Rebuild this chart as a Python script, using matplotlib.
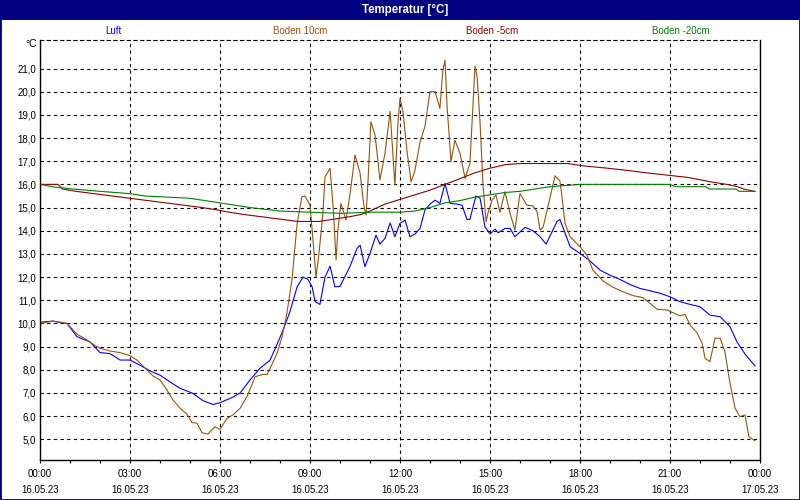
import numpy as np
import matplotlib
matplotlib.use('Agg')
import matplotlib.pyplot as plt
from matplotlib.patches import Rectangle

# --- data (hours since 16.05.23 00:00, degC) ---
luft_t = [0.00, 0.43, 0.90, 1.23, 1.67, 2.00, 2.33, 2.67, 3.00, 3.33, 3.67, 4.00, 4.33, 4.67,
          5.10, 5.43, 5.77, 6.00, 6.43, 6.67, 7.00, 7.33, 7.67, 7.90, 8.10, 8.33, 8.57, 8.77,
          8.93, 9.07, 9.17, 9.33, 9.50, 9.67, 9.83, 10.00, 10.33, 10.57, 10.67, 10.83, 11.00,
          11.20, 11.33, 11.50, 11.67, 11.83, 12.00, 12.17, 12.33, 12.50, 12.67, 12.83, 13.00,
          13.17, 13.33, 13.50, 13.67, 13.90, 14.07, 14.23, 14.33, 14.53, 14.67, 14.83, 15.00,
          15.17, 15.27, 15.50, 15.67, 15.83, 16.17, 16.43, 16.67, 16.87, 17.07, 17.23, 17.33,
          17.43, 17.67, 18.00, 18.33, 18.67, 19.00, 19.33, 19.67, 20.00, 20.33, 20.67, 21.00,
          21.33, 21.67, 22.00, 22.33, 22.67, 23.00, 23.23, 23.50, 23.83]
luft = [10.05, 10.10, 10.00, 9.43, 9.20, 8.74, 8.70, 8.42, 8.42, 8.20, 7.95, 7.77, 7.48, 7.20,
        6.98, 6.67, 6.50, 6.58, 6.82, 7.00, 7.56, 8.06, 8.42, 9.10, 9.70, 10.50, 11.58, 12.00,
        11.90, 11.58, 10.94, 10.82, 12.00, 12.47, 11.58, 11.60, 12.45, 13.24, 13.38, 12.45, 13.02,
        13.81, 13.42, 13.67, 14.34, 13.74, 14.32, 14.46, 13.74, 13.86, 14.10, 14.89, 15.15,
        15.32, 15.18, 16.04, 15.18, 15.15, 15.10, 14.49, 14.49, 15.50, 15.40, 14.17, 13.86,
        14.07, 13.91, 14.10, 14.10, 13.74, 14.15, 14.00, 13.74, 13.42, 13.96, 14.39, 14.49,
        14.15, 13.31, 13.02, 12.70, 12.30, 12.08, 11.90, 11.68, 11.51, 11.41, 11.30, 11.15,
        10.94, 10.82, 10.72, 10.36, 10.29, 9.86, 9.21, 8.68, 8.17]

b10_t = [0.00, 0.43, 0.90, 1.23, 1.57, 1.77, 2.00, 2.33, 2.67, 3.00, 3.23, 3.57, 3.77, 4.00,
         4.23, 4.43, 4.67, 4.90, 5.07, 5.23, 5.40, 5.60, 5.83, 6.00, 6.23, 6.43, 6.67, 6.90,
         7.17, 7.43, 7.57, 7.67, 7.90, 8.07, 8.23, 8.40, 8.57, 8.73, 8.83, 9.00, 9.10, 9.20,
         9.30, 9.43, 9.50, 9.67, 9.77, 9.87, 9.93, 10.03, 10.10, 10.20, 10.33, 10.50, 10.67,
         10.80, 10.87, 10.93, 11.03, 11.17, 11.33, 11.50, 11.67, 11.77, 11.83, 11.93, 12.00,
         12.10, 12.23, 12.37, 12.50, 12.67, 12.83, 13.00, 13.17, 13.33, 13.43, 13.50, 13.57,
         13.70, 13.83, 14.00, 14.17, 14.33, 14.43, 14.50, 14.57, 14.67, 14.77, 14.87, 14.93,
         15.07, 15.20, 15.33, 15.50, 15.67, 15.83, 16.00, 16.23, 16.43, 16.57, 16.67, 16.77,
         16.93, 17.17, 17.33, 17.40, 17.50, 17.67, 18.00, 18.23, 18.43, 18.77, 19.10, 19.43,
         19.77, 20.10, 20.33, 20.57, 20.90, 21.10, 21.33, 21.50, 21.67, 21.90, 22.07, 22.17,
         22.33, 22.50, 22.67, 22.83, 23.00, 23.17, 23.33, 23.50, 23.63, 23.83]
boden10 = [10.00, 10.10, 10.00, 9.54, 9.28, 9.10, 8.93, 8.81, 8.74, 8.61, 8.42, 7.99, 7.73, 7.56,
           7.13, 6.70, 6.34, 6.08, 5.72, 5.70, 5.28, 5.23, 5.54, 5.43, 5.90, 6.05, 6.34, 6.84,
           7.70, 7.80, 7.80, 8.06, 8.70, 9.43, 10.44, 11.90, 14.30, 15.47, 15.50, 15.10, 13.60,
           12.00, 13.02, 14.75, 16.33, 16.69, 15.04, 12.74, 14.03, 15.18, 14.89, 14.46, 15.54,
           17.27, 16.48, 15.04, 14.68, 16.04, 18.70, 18.13, 16.19, 17.34, 19.15, 17.20, 15.97,
           18.63, 19.71, 19.13, 17.48, 16.11, 16.61, 17.84, 18.49, 20.00, 20.00, 19.28, 20.93,
           21.36, 19.35, 16.98, 17.91, 17.34, 16.26, 16.91, 19.35, 21.08, 20.65, 18.63, 15.90,
           14.39, 14.75, 15.32, 15.54, 14.80, 15.68, 14.75, 14.03, 15.61, 15.10, 15.08, 14.82,
           14.03, 14.15, 15.04, 16.37, 16.15, 15.47, 14.32, 13.74, 13.31, 12.95, 12.30, 11.83,
           11.56, 11.37, 11.20, 11.11, 10.87, 10.61, 10.58, 10.46, 10.33, 10.39, 9.93, 9.60,
           9.14, 8.49, 8.35, 9.36, 9.36, 8.78, 7.42, 6.34, 5.98, 6.05, 5.11, 4.94]

b5_t = [0.00, 0.60, 0.75, 1.20, 1.80, 2.40, 3.00, 3.60, 4.20, 4.80, 5.40, 5.90, 6.30, 6.80,
        7.40, 8.00, 8.60, 9.30, 9.80, 10.30, 10.70, 11.00, 11.50, 12.00, 12.50, 13.00, 13.50,
        14.00, 14.50, 15.00, 15.50, 16.00, 17.60, 18.10, 18.90, 19.60, 20.20, 20.90, 21.60,
        22.00, 22.40, 22.90, 23.25, 23.45, 23.83]
boden5 = [16.00, 16.00, 15.80, 15.70, 15.60, 15.50, 15.40, 15.30, 15.20, 15.10, 15.00, 14.90,
          14.80, 14.70, 14.60, 14.50, 14.40, 14.40, 14.50, 14.60, 14.70, 14.85, 15.15, 15.35,
          15.55, 15.75, 16.00, 16.25, 16.50, 16.70, 16.85, 16.90, 16.90, 16.80, 16.70, 16.60,
          16.50, 16.40, 16.30, 16.20, 16.10, 16.00, 15.90, 15.80, 15.70]

b20_t = [0.00, 0.40, 1.10, 2.00, 3.00, 3.50, 5.00, 6.00, 7.00, 8.00, 9.00, 10.00, 11.00, 12.00,
         12.50, 13.00, 13.50, 14.00, 14.50, 15.00, 15.50, 16.00, 16.50, 17.00, 17.50, 18.00,
         21.00, 21.20, 22.20, 22.30, 23.20, 23.30, 23.83]
boden20 = [16.00, 15.90, 15.80, 15.70, 15.60, 15.50, 15.40, 15.20, 15.00, 14.85, 14.80, 14.75,
           14.80, 14.80, 14.85, 15.00, 15.20, 15.30, 15.45, 15.55, 15.65, 15.70, 15.80, 15.90,
           15.95, 16.00, 16.00, 15.90, 15.90, 15.80, 15.80, 15.70, 15.70]

series_names = ['Luft', 'Boden 10cm', 'Boden -5cm', 'Boden -20cm']
series_colors = ['#0000FF', '#99520F', '#8B0000', '#008000']

tick_hours = list(range(0, 25, 3))
tick_times = ['00:00', '03:00', '06:00', '09:00', '12:00', '15:00', '18:00', '21:00', '00:00']
tick_dates = ['16.05.23'] * 8 + ['17.05.23']
y_ticks = list(range(5, 22))

plt.rcParams['font.family'] = ['Liberation Sans', 'DejaVu Sans']

fig = plt.figure(figsize=(8, 5), dpi=100)
fig.patch.set_facecolor('white')
ax = fig.add_axes([0.05, 0.08, 0.90, 0.84])

series = [(luft_t, luft), (b10_t, boden10), (b5_t, boden5), (b20_t, boden20)]
for (t, v), col in zip(series, series_colors):
    ax.plot(t, v, color=col, lw=0.8)

ax.set_xlim(0, 24)
ax.set_ylim(4.107, 22.23)

ax.set_xticks(tick_hours)
ax.set_xticklabels([a + '\n' + b for a, b in zip(tick_times, tick_dates)], fontsize=7)
for lab in ax.get_xticklabels():
    lab.set_linespacing(1.75)
ax.set_xticks(range(0, 25), minor=True)
ax.tick_params(axis='x', which='both', direction='out', length=2.5, width=0.8, pad=4)

ax.set_yticks(y_ticks)
ax.set_yticklabels([('%.1f' % v).replace('.', ',') for v in y_ticks], fontsize=7)
ax.tick_params(axis='y', length=0, pad=3)

ax.grid(True, which='major', color='black', linestyle=(0, (3, 3)), lw=0.8)
for s in ['left', 'right', 'bottom']:
    ax.spines[s].set_linewidth(1.0)
ax.spines['top'].set_linestyle((0, (3, 3)))
ax.spines['top'].set_linewidth(0.8)

# title bar
fig.patches.append(Rectangle((0, 0.96), 1, 0.04, transform=fig.transFigure,
                             facecolor='#000080', edgecolor='none', zorder=0))
fig.text(0.506, 0.981, 'Temperatur [°C]', color='white', fontsize=8.3, fontweight='bold',
         ha='center', va='center')
fig.patches.append(Rectangle((0, 0), 1, 1, transform=fig.transFigure,
                             facecolor='none', edgecolor='#000080', lw=2, zorder=5))

# legend labels
label_x = [113, 300, 492, 681]
for name, col, lx in zip(series_names, series_colors, label_x):
    fig.text(lx / 800, 1 - 30.5 / 500, name, color=col, fontsize=7, ha='center', va='center')

fig.text(37 / 800, 1 - 44 / 500, '°C', fontsize=7.5, ha='right', va='center')

fig.savefig('out.png', dpi=100)
